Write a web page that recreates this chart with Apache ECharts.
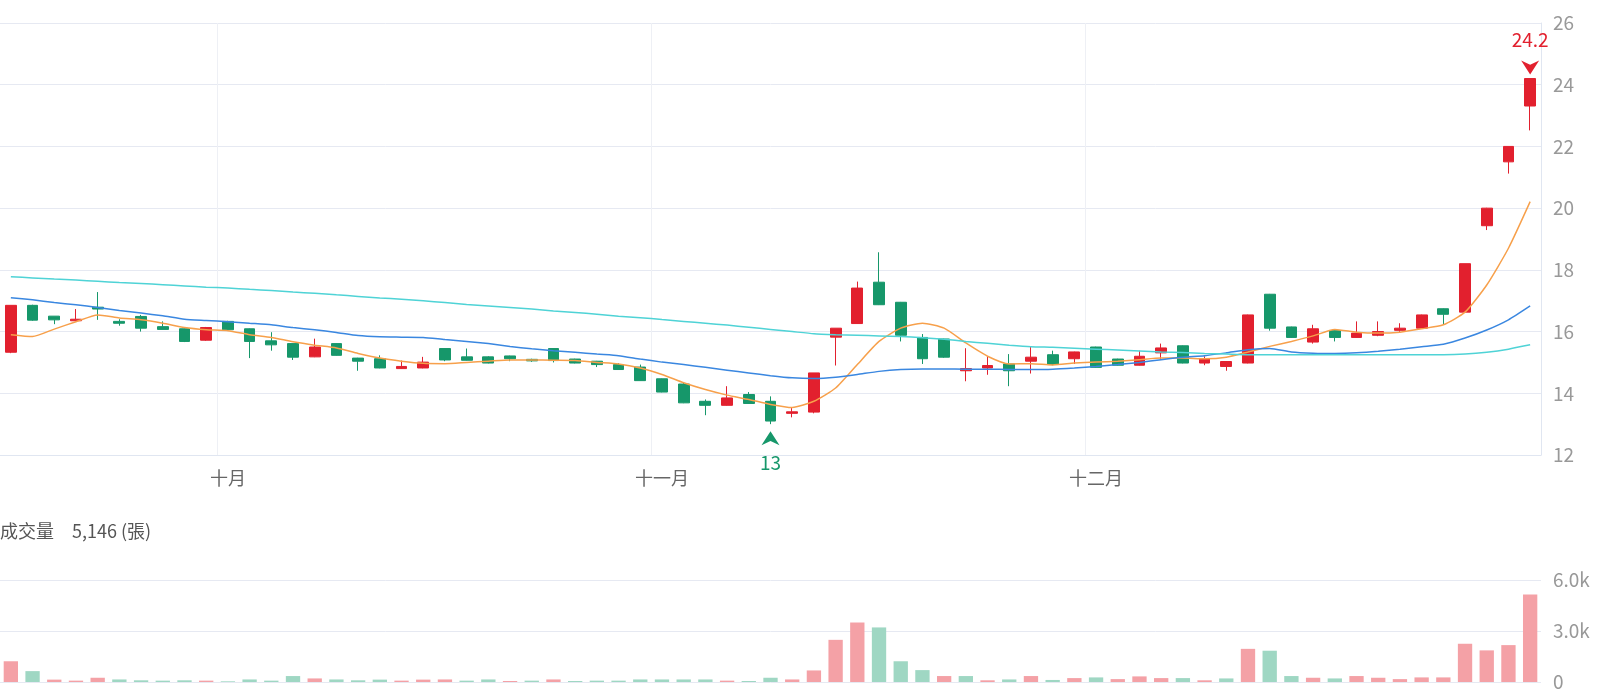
<!DOCTYPE html>
<html>
<head>
<meta charset="utf-8">
<script src="https://cdn.jsdelivr.net/npm/echarts@6/dist/echarts.min.js"></script>
<style>
  html, body { margin: 0; padding: 0; background: #fff; }
  #chart { width: 1600px; height: 694px; }
</style>
</head>
<body>
<div id="chart"></div>
<script>
// 交易日
const dates = [
  '2025-09-16', '2025-09-17', '2025-09-18', '2025-09-19', '2025-09-22', '2025-09-23', '2025-09-24', '2025-09-25', '2025-09-26', '2025-09-30',
  '2025-10-01', '2025-10-02', '2025-10-03', '2025-10-07', '2025-10-08', '2025-10-09', '2025-10-13', '2025-10-14', '2025-10-15', '2025-10-16',
  '2025-10-17', '2025-10-20', '2025-10-21', '2025-10-22', '2025-10-23', '2025-10-27', '2025-10-28', '2025-10-29', '2025-10-30', '2025-10-31',
  '2025-11-03', '2025-11-04', '2025-11-05', '2025-11-06', '2025-11-07', '2025-11-10', '2025-11-11', '2025-11-12', '2025-11-13', '2025-11-14',
  '2025-11-17', '2025-11-18', '2025-11-19', '2025-11-20', '2025-11-21', '2025-11-24', '2025-11-25', '2025-11-26', '2025-11-27', '2025-11-28',
  '2025-12-01', '2025-12-02', '2025-12-03', '2025-12-04', '2025-12-05', '2025-12-08', '2025-12-09', '2025-12-10', '2025-12-11', '2025-12-12',
  '2025-12-15', '2025-12-16', '2025-12-17', '2025-12-18', '2025-12-19', '2025-12-22', '2025-12-23', '2025-12-24', '2025-12-26', '2025-12-29',
  '2025-12-30'
]

// [開, 收, 低, 高]
const ohlc = [
  [15.33, 16.85, 15.30, 16.85], [16.85, 16.37, 16.35, 16.87], [16.50, 16.38, 16.24, 16.50], [16.35, 16.40, 16.35, 16.73],
  [16.79, 16.73, 16.38, 17.28], [16.33, 16.27, 16.19, 16.40], [16.49, 16.11, 16.00, 16.54], [16.16, 16.07, 16.07, 16.33],
  [16.09, 15.68, 15.66, 16.10], [15.72, 16.13, 15.70, 16.15], [16.33, 16.06, 16.04, 16.35], [16.09, 15.68, 15.14, 16.10],
  [15.70, 15.57, 15.38, 15.98], [15.61, 15.17, 15.08, 15.62], [15.18, 15.50, 15.17, 15.77], [15.61, 15.23, 15.22, 15.62],
  [15.14, 15.04, 14.73, 15.15], [15.12, 14.82, 14.81, 15.23], [14.80, 14.87, 14.79, 15.06], [14.82, 15.01, 14.81, 15.18],
  [15.45, 15.08, 15.04, 15.46], [15.18, 15.07, 15.06, 15.45], [15.18, 14.98, 14.97, 15.20], [15.21, 15.12, 15.04, 15.22],
  [15.10, 15.05, 15.02, 15.12], [15.45, 15.06, 15.00, 15.46], [15.11, 14.98, 14.97, 15.12], [15.04, 14.93, 14.85, 15.05],
  [14.93, 14.77, 14.76, 14.98], [14.85, 14.41, 14.40, 14.93], [14.47, 14.04, 14.03, 14.48], [14.30, 13.69, 13.68, 14.34],
  [13.74, 13.61, 13.29, 13.80], [13.61, 13.85, 13.60, 14.23], [13.96, 13.67, 13.66, 14.04], [13.74, 13.10, 13.00, 13.90],
  [13.35, 13.40, 13.22, 13.52], [13.39, 14.66, 13.35, 14.66], [15.82, 16.11, 14.90, 16.11], [16.26, 17.41, 16.25, 17.62],
  [17.60, 16.87, 16.86, 18.57], [16.95, 15.88, 15.68, 16.96], [15.81, 15.12, 14.95, 15.92], [15.76, 15.17, 15.15, 15.77],
  [14.73, 14.80, 14.39, 15.46], [14.82, 14.90, 14.60, 15.19], [14.95, 14.73, 14.23, 15.27], [15.04, 15.17, 14.64, 15.52],
  [15.25, 14.93, 14.91, 15.38], [15.12, 15.34, 14.95, 15.35], [15.50, 14.84, 14.83, 15.51], [15.11, 14.91, 14.90, 15.12],
  [14.91, 15.20, 14.90, 15.38], [15.31, 15.47, 15.09, 15.61], [15.54, 14.98, 14.97, 15.55], [14.98, 15.12, 14.91, 15.20],
  [14.87, 15.03, 14.73, 15.04], [14.98, 16.54, 14.97, 16.55], [17.21, 16.11, 16.03, 17.22], [16.15, 15.81, 15.80, 16.16],
  [15.66, 16.09, 15.61, 16.22], [16.03, 15.81, 15.68, 16.04], [15.81, 15.95, 15.80, 16.33], [15.88, 16.00, 15.85, 16.33],
  [16.04, 16.11, 15.99, 16.27], [16.11, 16.54, 16.10, 16.55], [16.74, 16.56, 16.22, 16.75], [16.63, 18.20, 16.62, 18.20],
  [19.43, 20.00, 19.29, 20.01], [21.50, 22.00, 21.12, 22.00], [23.31, 24.20, 22.52, 24.20]
]

// 成交量 (張)
const volumes = [
  1220, 640, 140, 80, 250, 150, 100, 80, 100, 80, 40, 150, 80, 350, 210, 150, 100, 140, 80, 140,
  150, 80, 150, 60, 80, 150, 60, 80, 80, 150, 150, 150, 150, 80, 60, 250, 150, 680, 2480, 3500,
  3210, 1220, 700, 350, 350, 100, 150, 350, 120, 230, 270, 170, 330, 230, 230, 100, 210, 1950, 1840, 350,
  250, 210, 350, 250, 170, 270, 270, 2250, 1860, 2170, 5146
]

const ma5 = [
  15.90, 15.84, 16.08, 16.32, 16.54, 16.44, 16.38, 16.27, 16.13, 16.06, 16.03, 15.90, 15.81, 15.67, 15.56, 15.47, 15.29, 15.14, 15.04, 14.97,
  14.96, 15.00, 15.04, 15.08, 15.08, 15.07, 15.06, 15.00, 14.95, 14.82, 14.61, 14.34, 14.12, 13.94, 13.80, 13.64, 13.54, 13.74, 14.17, 14.93,
  15.68, 16.11, 16.27, 16.11, 15.63, 15.20, 14.95, 14.96, 14.92, 14.98, 15.01, 15.04, 15.09, 15.14, 15.14, 15.12, 15.17, 15.34, 15.52, 15.68,
  15.86, 16.07, 15.98, 15.95, 15.98, 16.09, 16.22, 16.63, 17.51, 18.70, 20.21
]

const ma20 = [
  17.10, 17.03, 16.94, 16.87, 16.78, 16.68, 16.60, 16.51, 16.40, 16.36, 16.32, 16.27, 16.22, 16.13, 16.06, 15.97, 15.87, 15.83, 15.82, 15.81,
  15.74, 15.68, 15.61, 15.52, 15.44, 15.38, 15.33, 15.27, 15.22, 15.11, 15.01, 14.93, 14.84, 14.75, 14.66, 14.57, 14.50, 14.48, 14.52, 14.61,
  14.71, 14.77, 14.79, 14.79, 14.78, 14.78, 14.77, 14.77, 14.78, 14.82, 14.87, 14.93, 15.00, 15.09, 15.17, 15.22, 15.31, 15.41, 15.45, 15.34,
  15.30, 15.29, 15.31, 15.36, 15.43, 15.51, 15.59, 15.79, 16.05, 16.38, 16.83
]

const ma60 = [
  17.78, 17.74, 17.70, 17.67, 17.63, 17.59, 17.56, 17.52, 17.48, 17.44, 17.41, 17.37, 17.33, 17.28, 17.24, 17.19, 17.14, 17.09, 17.05, 17.00,
  16.94, 16.88, 16.83, 16.78, 16.73, 16.67, 16.62, 16.56, 16.50, 16.45, 16.39, 16.33, 16.27, 16.21, 16.14, 16.07, 16.00, 15.93, 15.90, 15.88,
  15.86, 15.84, 15.80, 15.75, 15.68, 15.62, 15.56, 15.51, 15.49, 15.46, 15.43, 15.40, 15.37, 15.34, 15.32, 15.29, 15.27, 15.25, 15.25, 15.25,
  15.25, 15.25, 15.25, 15.25, 15.25, 15.25, 15.25, 15.27, 15.33, 15.43, 15.57
]

const monthNames = { '09': '九月', '10': '十月', '11': '十一月', '12': '十二月' }

const UP = '#e2202e'
const DOWN = '#16976a'
const UP_VOL = '#f4a1a6'
const DOWN_VOL = '#9fd7c3'
const FONT = '"Noto Sans CJK TC", "Noto Sans", sans-serif'

const monthOf = d => d.slice(5, 7)
const isMonthStart = idx => idx > 0 && monthOf(dates[idx]) !== monthOf(dates[idx - 1])

// 量的顏色依照與前一日收盤比較
const volData = volumes.map((v, i) => {
  const up = i === 0 || ohlc[i][1] >= ohlc[i - 1][1]
  return { value: v, itemStyle: { color: up ? UP_VOL : DOWN_VOL } }
})

const lastVol = volumes[volumes.length - 1]

const chart = echarts.init(document.getElementById('chart'))

const option = {
  animation: false,
  textStyle: { fontFamily: FONT },
  title: {
    text: '{a|成交量}{b|' + lastVol.toLocaleString('en-US') + ' (張)}',
    left: 0,
    top: 522,
    textStyle: {
      fontWeight: 'normal',
      rich: {
        a: { fontSize: 18, color: '#555', fontWeight: 'normal', fontFamily: FONT, padding: [0, 18, 0, 0] },
        b: { fontSize: 18, color: '#555', fontWeight: 'normal', fontFamily: FONT }
      }
    },
    padding: 0
  },
  grid: [
    { left: 0, right: 59, top: 23, height: 432 },
    { left: 0, right: 59, top: 580, height: 102 }
  ],
  xAxis: [
    {
      type: 'category',
      gridIndex: 0,
      data: dates,
      boundaryGap: true,
      axisLine: { lineStyle: { color: '#e0e6f1' } },
      axisTick: { show: false },
      axisLabel: {
        interval: (idx) => isMonthStart(idx),
        formatter: (val) => monthNames[monthOf(val)],
        color: '#666',
        fontSize: 18,
        margin: 14,
        fontFamily: FONT
      },
      splitLine: {
        show: true,
        interval: (idx) => isMonthStart(idx),
        lineStyle: { color: '#eef0f5' }
      }
    },
    {
      type: 'category',
      gridIndex: 1,
      data: dates,
      boundaryGap: true,
      axisLine: { show: false },
      axisTick: { show: false },
      axisLabel: { show: false },
      splitLine: { show: false }
    }
  ],
  yAxis: [
    {
      type: 'value',
      gridIndex: 0,
      position: 'right',
      min: 12,
      max: 26,
      interval: 2,
      axisLine: { show: true, lineStyle: { color: '#e0e6f1' } },
      axisTick: { show: false },
      axisLabel: { color: '#999', fontSize: 19, margin: 12, fontFamily: FONT },
      splitLine: { lineStyle: { color: '#e6e9f2' } }
    },
    {
      type: 'value',
      gridIndex: 1,
      position: 'right',
      min: 0,
      max: 6000,
      interval: 3000,
      axisLine: { show: false },
      axisTick: { show: false },
      axisLabel: {
        color: '#999',
        fontSize: 19,
        margin: 12,
        fontFamily: FONT,
        formatter: (v) => v === 0 ? '0' : (v / 1000).toFixed(1) + 'k'
      },
      splitLine: { lineStyle: { color: '#e6e9f2' } }
    }
  ],
  series: [
    {
      name: 'K線',
      type: 'candlestick',
      xAxisIndex: 0,
      yAxisIndex: 0,
      data: ohlc,
      barWidth: '52%',
      itemStyle: {
        color: UP,
        color0: DOWN,
        borderColor: UP,
        borderColor0: DOWN,
        borderWidth: 1
      },
      markPoint: {
        silent: true,
        data: [
          {
            type: 'max',
            valueDim: 'highest',
            symbol: 'path://M0,0 L5,3 L10,0 L5,10 Z',
            symbolSize: [18, 14],
            symbolOffset: [0, -11],
            itemStyle: { color: UP },
            label: { show: true, position: 'top', distance: 11, color: UP, fontSize: 19, fontFamily: FONT }
          },
          {
            type: 'min',
            valueDim: 'lowest',
            symbol: 'path://M0,10 L5,0 L10,10 L5,7 Z',
            symbolSize: [18, 14],
            symbolOffset: [0, 14],
            itemStyle: { color: DOWN },
            label: { show: true, position: 'bottom', distance: 8, color: DOWN, fontSize: 19, fontFamily: FONT }
          }
        ]
      }
    },
    {
      name: 'MA5',
      type: 'line',
      data: ma5,
      symbol: 'none',
      smooth: 0.2,
      lineStyle: { color: '#f7a04b', width: 1.5 }
    },
    {
      name: 'MA20',
      type: 'line',
      data: ma20,
      symbol: 'none',
      smooth: 0.2,
      lineStyle: { color: '#3a87e0', width: 1.5 }
    },
    {
      name: 'MA60',
      type: 'line',
      data: ma60,
      symbol: 'none',
      smooth: 0.2,
      lineStyle: { color: '#4fd3d6', width: 1.5 }
    },
    {
      name: '成交量',
      type: 'bar',
      xAxisIndex: 1,
      yAxisIndex: 1,
      data: volData,
      barWidth: '66%'
    }
  ]
}

chart.setOption(option)
</script>
</body>
</html>
